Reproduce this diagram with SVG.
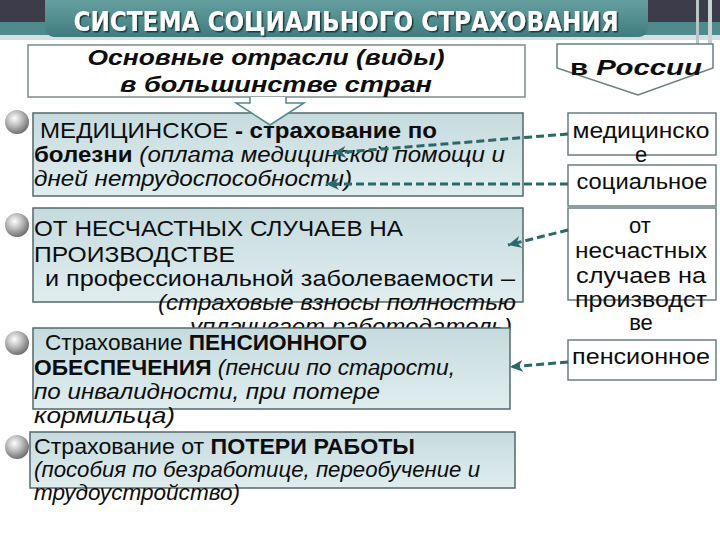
<svg xmlns="http://www.w3.org/2000/svg" width="720" height="540" viewBox="0 0 720 540">
<defs>
  <linearGradient id="bannerGrad" x1="0" y1="0" x2="0" y2="1">
    <stop offset="0" stop-color="#6fa6a7"/>
    <stop offset="1" stop-color="#3f7c7e"/>
  </linearGradient>
  <linearGradient id="boxGrad" x1="0" y1="0" x2="0" y2="1">
    <stop offset="0" stop-color="#c6dbde"/>
    <stop offset="1" stop-color="#e0edef"/>
  </linearGradient>
  <radialGradient id="ball" cx="0.4" cy="0.35" r="0.7">
    <stop offset="0" stop-color="#ffffff"/>
    <stop offset="0.45" stop-color="#bdbdbd"/>
    <stop offset="1" stop-color="#656565"/>
  </radialGradient>
  <filter id="shadow" x="-5%" y="-20%" width="110%" height="150%">
    <feDropShadow dx="1.5" dy="1.5" stdDeviation="0.6" flood-color="#17302f" flood-opacity="0.9"/>
  </filter>
  <marker id="arr" markerUnits="userSpaceOnUse" markerWidth="14" markerHeight="12" refX="13" refY="6" orient="auto">
    <path d="M0,0 L13,6 L0,12 L4,6 Z" fill="#2b6869"/>
  </marker>
  <style>
    .box { fill: url(#boxGrad); stroke: #56676a; stroke-width: 1.5; }
    .wbox { fill: #ffffff; stroke: #6a7e80; stroke-width: 1.5; }
    .t { font-family: "Liberation Sans", Arial, sans-serif; font-size: 22px; fill: #0d0d0d; }
    .b { font-weight: bold; }
    .i { font-style: italic; }
    .c { text-anchor: middle; }
    .conn { fill: none; stroke: #2b6869; stroke-width: 3; stroke-dasharray: 8 4; }
  </style>
</defs>

<!-- background -->
<rect x="0" y="0" width="720" height="540" fill="#ffffff"/>
<rect x="0" y="0" width="720" height="22" fill="#3c3c4a"/>
<rect x="0" y="22" width="720" height="13" fill="#4f8b8c"/>
<rect x="0" y="35" width="720" height="5" fill="#d3dfe1"/>
<rect x="696" y="0" width="3" height="44" fill="#b9c4c6"/>
<rect x="708" y="0" width="4" height="44" fill="#c9d2d4"/>

<!-- title -->
<g id="title">
  <rect x="45" y="-8" width="603" height="45" rx="9" fill="url(#bannerGrad)"/>
  <text x="346" y="31" class="c" font-family="'DejaVu Sans Condensed','Liberation Sans',sans-serif" font-weight="bold" font-size="27" fill="#ffffff" textLength="545" lengthAdjust="spacingAndGlyphs" filter="url(#shadow)">СИСТЕМА СОЦИАЛЬНОГО СТРАХОВАНИЯ</text>
</g>

<!-- header left -->
<g id="header-left">
  <rect x="28" y="45" width="497" height="52" fill="#ffffff" stroke="#7d8b8c" stroke-width="1.5"/>
  <text x="266" y="65" class="t b i c" font-size="24" textLength="357" lengthAdjust="spacingAndGlyphs">Основные отрасли (виды)</text>
  <text x="276" y="92" class="t b i c" font-size="24" textLength="312" lengthAdjust="spacingAndGlyphs">в большинстве стран</text>
</g>

<!-- header right -->
<g id="header-right">
  <path d="M557,44 L713,44 L713,68 L638,95 L557,68 Z" class="wbox"/>
  <text x="570" y="75" class="t b i" font-size="25" textLength="132" lengthAdjust="spacingAndGlyphs"><tspan font-style="normal">в</tspan> России</text>
</g>

<!-- node 1 -->
<g id="node-medical">
  <rect x="33" y="113" width="490" height="83" class="box"/>
  <circle cx="17" cy="122" r="12" fill="url(#ball)"/>
  <text x="40" y="138" class="t" textLength="397" lengthAdjust="spacingAndGlyphs">МЕДИЦИНСКОЕ<tspan class="b"> - страхование по</tspan></text>
  <text x="34" y="162" class="t" textLength="471" lengthAdjust="spacingAndGlyphs"><tspan class="b">болезни</tspan><tspan class="i"> (оплата медицинской помощи и</tspan></text>
  <text x="34" y="186" class="t i" textLength="318" lengthAdjust="spacingAndGlyphs">дней нетрудоспособности)</text>
</g>

<!-- node 2 -->
<g id="node-accident">
  <rect x="33" y="208" width="490" height="94" class="box"/>
  <circle cx="17" cy="225" r="12" fill="url(#ball)"/>
  <text x="34" y="236" class="t" textLength="369" lengthAdjust="spacingAndGlyphs">ОТ НЕСЧАСТНЫХ СЛУЧАЕВ НА</text>
  <text x="34" y="262" class="t" textLength="201" lengthAdjust="spacingAndGlyphs">ПРОИЗВОДСТВЕ</text>
  <text x="45" y="286" class="t" textLength="470" lengthAdjust="spacingAndGlyphs">и профессиональной заболеваемости –</text>
  <text x="158" y="310" class="t i" textLength="358" lengthAdjust="spacingAndGlyphs">(страховые взносы полностью</text>
  <text x="190" y="334" class="t i" textLength="322" lengthAdjust="spacingAndGlyphs">уплачивает работодатель)</text>
</g>

<!-- node 3 -->
<g id="node-pension">
  <rect x="33" y="328" width="477" height="81" class="box"/>
  <circle cx="17" cy="343" r="12" fill="url(#ball)"/>
  <text x="45" y="350" class="t" textLength="322" lengthAdjust="spacingAndGlyphs">Страхование <tspan class="b">ПЕНСИОННОГО</tspan></text>
  <text x="34" y="375" class="t" textLength="421" lengthAdjust="spacingAndGlyphs"><tspan class="b">ОБЕСПЕЧЕНИЯ</tspan><tspan class="i"> (пенсии по старости,</tspan></text>
  <text x="34" y="399" class="t i" textLength="346" lengthAdjust="spacingAndGlyphs">по инвалидности, при потере</text>
  <text x="34" y="423" class="t i" textLength="141" lengthAdjust="spacingAndGlyphs">кормильца)</text>
</g>

<!-- node 4 -->
<g id="node-unemployment">
  <rect x="30" y="432" width="485" height="56" class="box"/>
  <circle cx="17" cy="447" r="12" fill="url(#ball)"/>
  <text x="34" y="454" class="t" textLength="381" lengthAdjust="spacingAndGlyphs">Страхование от <tspan class="b">ПОТЕРИ РАБОТЫ</tspan></text>
  <text x="34" y="477" class="t i" textLength="446" lengthAdjust="spacingAndGlyphs">(пособия по безработице, переобучение и</text>
  <text x="34" y="500" class="t i" textLength="206" lengthAdjust="spacingAndGlyphs">трудоустройство)</text>
</g>

<!-- right nodes -->
<g id="r-medical">
  <rect x="568" y="113" width="148" height="42" class="wbox"/>
  <text x="641" y="138" class="t c" textLength="137" lengthAdjust="spacingAndGlyphs">медицинско</text>
</g>
<g id="r-social">
  <rect x="568" y="165" width="148" height="41" class="wbox"/>
  <text x="642" y="189" class="t c" textLength="131" lengthAdjust="spacingAndGlyphs">социальное</text>
  <text x="641" y="162" class="t c">е</text>
</g>
<g id="r-accident">
  <rect x="568" y="208" width="148" height="92" class="wbox"/>
  <text x="640" y="233" class="t c">от</text>
  <text x="641" y="258" class="t c" textLength="132" lengthAdjust="spacingAndGlyphs">несчастных</text>
  <text x="641" y="283" class="t c" textLength="130" lengthAdjust="spacingAndGlyphs">случаев на</text>
  <text x="641" y="307" class="t c" textLength="132" lengthAdjust="spacingAndGlyphs">производст</text>
  <text x="641" y="330" class="t c">ве</text>
</g>
<g id="r-pension">
  <rect x="568" y="340" width="148" height="40" class="wbox"/>
  <text x="641" y="364" class="t c" textLength="138" lengthAdjust="spacingAndGlyphs">пенсионное</text>
</g>

<!-- connectors -->
<g id="connectors">
  <path d="M250,97 L250,103 L236,103 L270,125 L304,103 L286,103 L286,97" fill="#ffffff" stroke="#4f8a8b" stroke-width="1.5" stroke-linejoin="miter"/>
  <path d="M568,134 L333,153" class="conn" marker-end="url(#arr)"/>
  <path d="M568,184 L326,184" class="conn" marker-end="url(#arr)"/>
  <path d="M568,230 L508,245" class="conn" marker-end="url(#arr)"/>
  <path d="M568,362 L510,367" class="conn" marker-end="url(#arr)"/>
</g>
</svg>
